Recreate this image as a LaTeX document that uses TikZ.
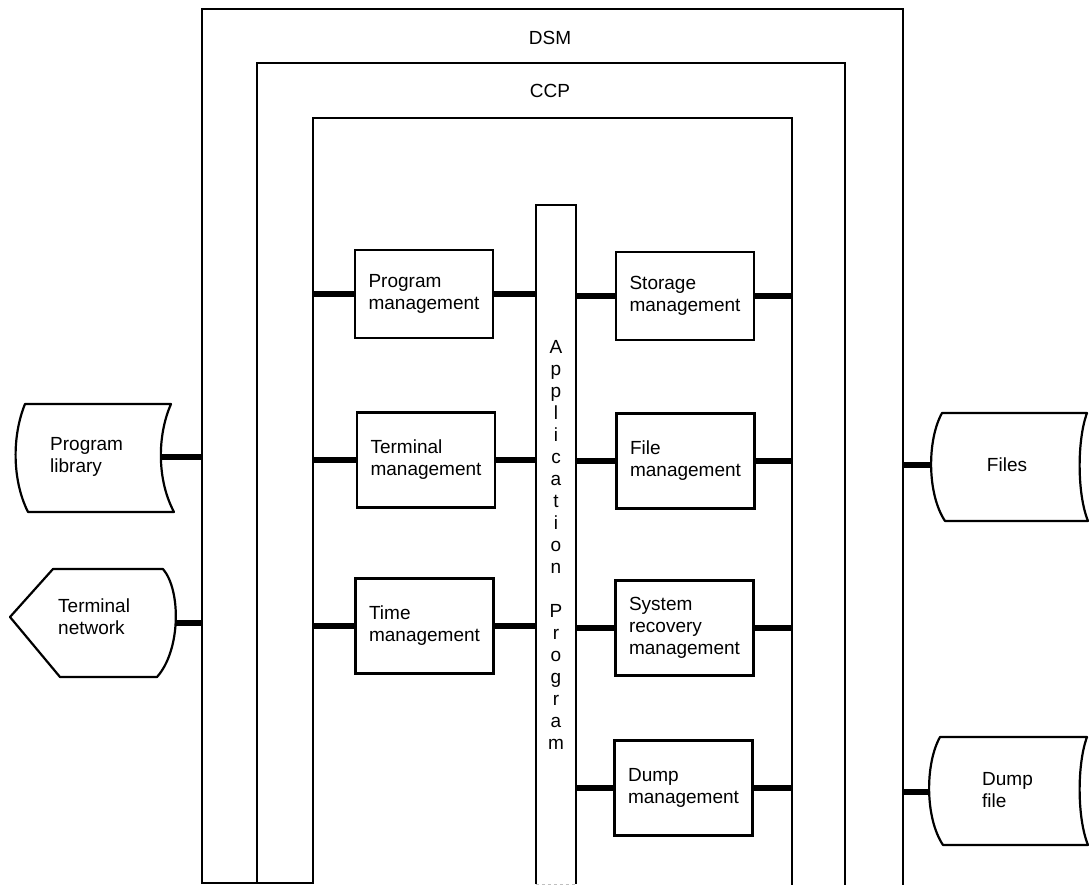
\documentclass[tikz,border=0pt]{standalone}
\usepackage{fontspec}
\setmainfont{Liberation Sans}
\begin{document}
\begin{tikzpicture}[x=1pt,y=-1pt,
  every node/.style={font=\fontsize{19}{22}\selectfont},
  frame/.style={line width=1.8pt, line join=miter},
  box/.style={draw, line width=2.3pt, minimum width=138pt, align=left, inner sep=0pt},
  store/.style={line width=2.2pt, line join=round},
  link/.style={line width=5.5pt},
  lbl/.style={align=left, inner sep=0pt}
]
\useasboundingbox (0,0) rectangle (1089,885);

% nested system layers: DSM outside, CCP inside, application area innermost
\coordinate (dsmL) at (202,0);
\coordinate (dsmR) at (903,0);
\coordinate (inL)  at (313,0);
\coordinate (inR)  at (792,0);
\draw[frame] (903,886) -- (903,9) -- (202,9) -- (202,883) -- (313,883)
             -- (313,118) -- (792,118) -- (792,886);
\draw[frame] (257,883) -- (257,63) -- (845,63) -- (845,886);
\node (dsm) at (550,38) {DSM};
\node (ccp) at (550,91) {CCP};

% application program column
\node[minimum width=40pt, minimum height=679pt, inner sep=0pt, align=center]
  (app) at (556,544.5)
  {A\\p\\p\\l\\i\\c\\a\\t\\i\\o\\n\\[22pt]P\\r\\o\\g\\r\\a\\m};
\draw[line width=2pt] (app.south west) -- (app.north west) -- (app.north east) -- (app.south east);
\draw[gray!50, line width=1pt, dashed] (app.south west) -- (app.south east);

% management modules
\node[box, minimum height=88pt] (prog) at (424,294)   {Program\\management};
\node[box, minimum height=95pt] (term) at (426,460)   {Terminal\\management};
\node[box, minimum height=95pt] (time) at (424.5,626) {Time\\management};
\node[box, minimum height=88pt] (stor) at (685,296)   {Storage\\management};
\node[box, minimum height=95pt] (file) at (685.5,461) {File\\management};
\node[box, minimum height=95pt] (reco) at (684.5,628) {System\\recovery\\management};
\node[box, minimum height=95pt] (dump) at (683.5,788) {Dump\\management};

\foreach \m in {prog,term,time}{
  \draw[link] (\m.west) -- (\m.west -| inL);
  \draw[link] (\m.east) -- (\m.east -| app.west);
}
\foreach \m in {stor,file,reco,dump}{
  \draw[link] (\m.west) -- (\m.west -| app.east);
  \draw[link] (\m.east) -- (\m.east -| inR);
}

% program library (stored data)
\draw[store] (25,404) -- (171,404) .. controls (157,436) and (157,480) .. (174,512)
  -- (28,512) .. controls (12,480) and (12,436) .. (25,404) -- cycle;
\node[lbl, anchor=west] (plib) at (50,457) {Program\\library};
\coordinate (plibR) at (161,457);
\draw[link] (plibR) -- (plibR -| dsmL);

% terminal network (display)
\draw[store] (53,569) -- (163,569) .. controls (181,590) and (181,650) .. (157,677)
  -- (60,677) -- (10,617) -- cycle;
\node[lbl, anchor=west] (tnet) at (58,617) {Terminal\\network};
\coordinate (tnetR) at (175,623);
\draw[link] (tnetR) -- (tnetR -| dsmL);

% files (stored data)
\draw[store] (942,413) -- (1087,413) .. controls (1077,440) and (1077,494) .. (1088,521)
  -- (945,521) .. controls (927,494) and (927,440) .. (942,413) -- cycle;
\node (files) at (1007,465) {Files};
\coordinate (filesL) at (932,465);
\draw[link] (filesL) -- (filesL -| dsmR);

% dump file (stored data)
\draw[store] (940,737) -- (1087,737) .. controls (1077,764) and (1077,818) .. (1088,845)
  -- (943,845) .. controls (925,818) and (925,764) .. (940,737) -- cycle;
\node[lbl, anchor=west] (dfile) at (982,790) {Dump\\file};
\coordinate (dfileL) at (929,792);
\draw[link] (dfileL) -- (dfileL -| dsmR);
\end{tikzpicture}
\end{document}
